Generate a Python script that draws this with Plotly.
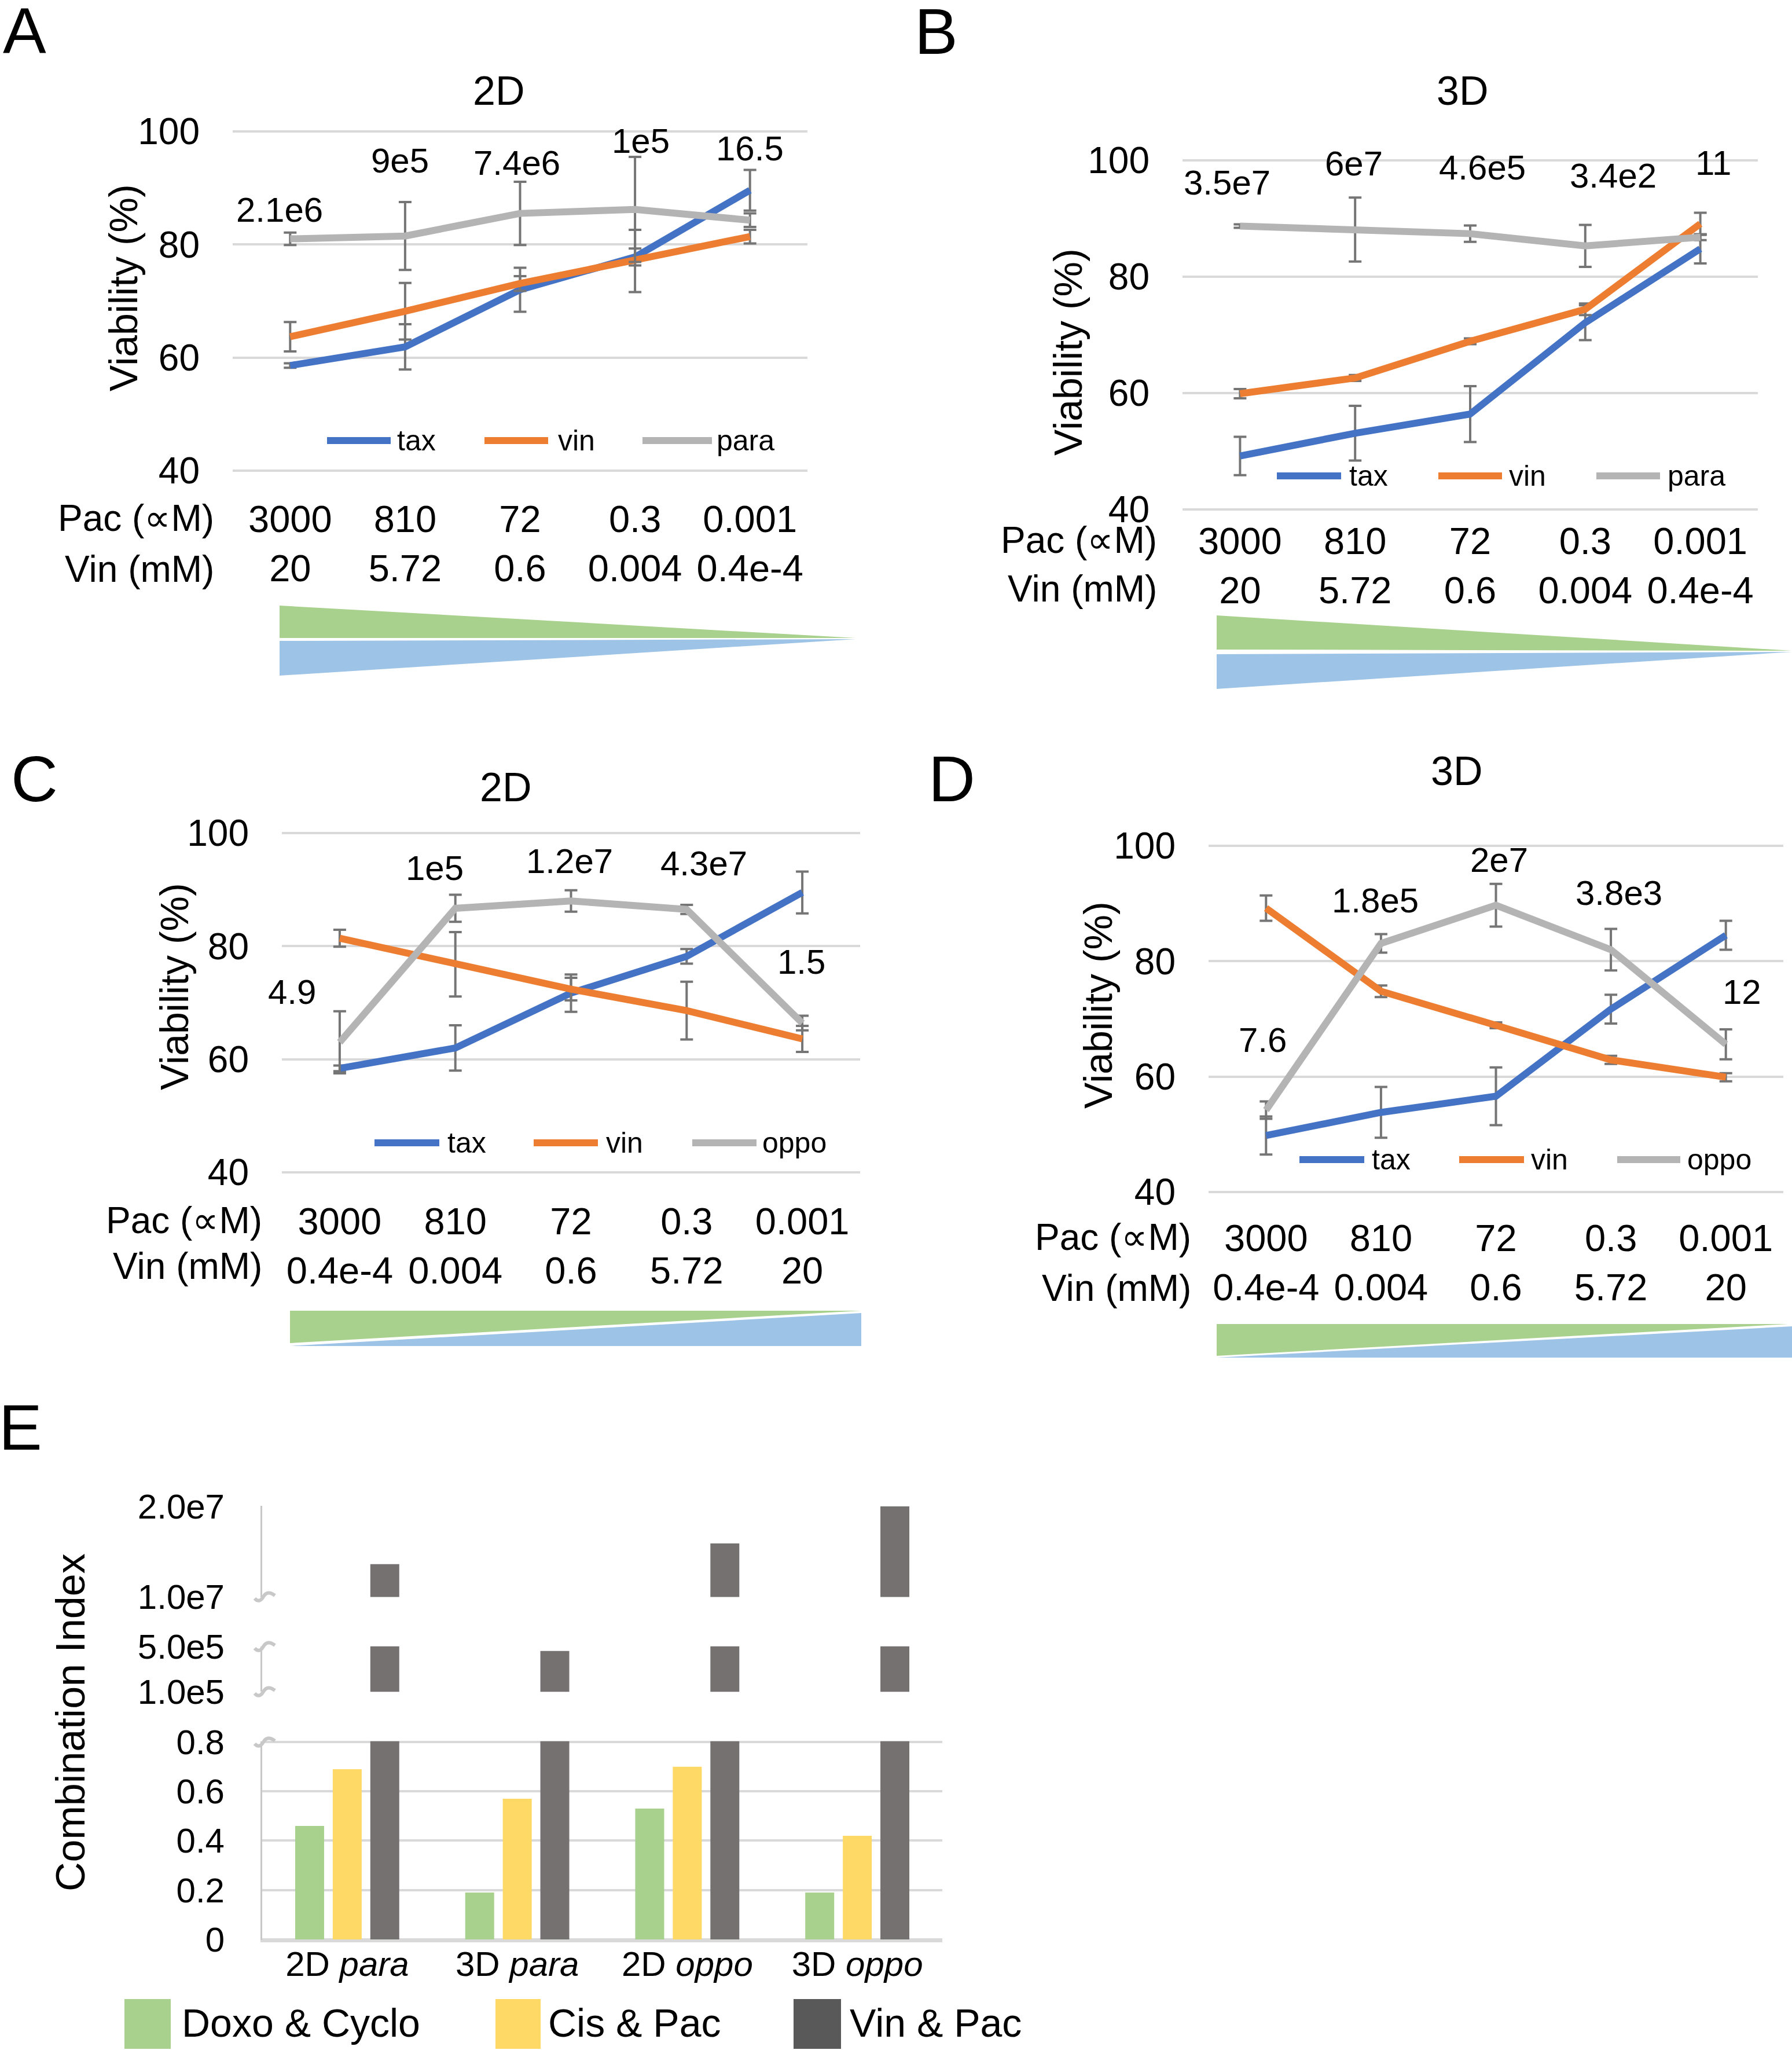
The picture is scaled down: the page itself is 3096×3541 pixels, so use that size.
import plotly.graph_objects as go

W, H = 3096, 3541
FONT = "Liberation Sans, Arial, sans-serif"

#%% Data
pac_conc = ["3000", "810", "72", "0.3", "0.001"]
vin_conc_para = ["20", "5.72", "0.6", "0.004", "0.4e-4"]
vin_conc_oppo = ["0.4e-4", "0.004", "0.6", "5.72", "20"]

# A - 2D, parallel
a_tax = [58.6, 61.9, 72.0, 77.8, 89.6]
a_tax_err = [0.4, 4.0, 3.9, 1.5, 3.6]
a_vin = [63.7, 68.2, 73.1, 77.1, 81.4]
a_vin_err = [2.6, 5.0, 1.3, 5.5, 1.2]
a_para = [81.0, 81.5, 85.5, 86.2, 84.3]
a_para_err = [1.1, 6.0, 5.6, 9.3, 1.2]
a_ci = ["2.1e6", "9e5", "7.4e6", "1e5", "16.5"]

# B - 3D, parallel
b_tax = [49.2, 53.1, 56.4, 72.1, 84.8]
b_tax_err = [3.3, 4.7, 4.8, 3.0, 2.5]
b_vin = [59.9, 62.6, 68.9, 74.4, 89.1]
b_vin_err = [0.8, 0.5, 0.5, 1.0, 1.9]
b_para = [88.7, 88.1, 87.4, 85.3, 86.8]
b_para_err = [0.3, 5.5, 1.4, 3.6, 0.5]
b_ci = ["3.5e7", "6e7", "4.6e5", "3.4e2", "11"]

# C - 2D, opposite
c_tax = [58.4, 62.0, 71.7, 78.2, 89.5]
c_tax_err = [0.5, 4.0, 3.3, 1.3, 3.7]
c_vin = [81.4, 76.8, 72.4, 68.6, 63.6]
c_vin_err = [1.5, 5.7, 2.0, 5.1, 2.3]
c_oppo = [63.0, 86.7, 88.0, 86.5, 66.4]
c_oppo_err = [5.5, 2.4, 1.9, 0.8, 1.3]
c_ci = ["4.9", "1e5", "1.2e7", "4.3e7", "1.5"]

# D - 3D, opposite
d_tax = [49.8, 53.8, 56.6, 71.7, 84.5]
d_tax_err = [3.3, 4.4, 5.0, 2.5, 2.5]
d_vin = [89.2, 74.8, 68.9, 62.9, 59.9]
d_vin_err = [2.2, 1.0, 0.5, 0.7, 0.7]
d_oppo = [54.2, 83.1, 89.7, 82.0, 65.6]
d_oppo_err = [1.5, 1.6, 3.7, 3.6, 2.6]
d_ci = ["7.6", "1.8e5", "2e7", "3.8e3", "12"]

viab_ticks = [40, 60, 80, 100]

# E - combination index
e_groups = ["2D para", "3D para", "2D oppo", "3D oppo"]
e_group_labels = ["2D <i>para</i>", "3D <i>para</i>", "2D <i>oppo</i>", "3D <i>oppo</i>"]
doxo_cyclo = [0.46, 0.19, 0.53, 0.19]
cis_pac = [0.69, 0.57, 0.70, 0.42]
vin_pac = [1.36e7, 4.6e5, 1.59e7, 2.0e7]
e_low_ticks = [0, 0.2, 0.4, 0.6, 0.8]
e_low_text = ["0", "0.2", "0.4", "0.6", "0.8"]
e_mid_ticks = [1e5, 5e5]
e_mid_text = ["1.0e5", "5.0e5"]
e_top_ticks = [1e7, 2e7]
e_top_text = ["1.0e7", "2.0e7"]

#%% Styles
C_TAX, C_VIN, C_GREY = "#4472C4", "#ED7D31", "#B4B4B4"
C_ERR, C_GRID = "#757575", "#D9D9D9"
C_GREEN, C_YELLOW, C_DARK = "#A9D18E", "#FFD966", "#767171"
C_TRI_G, C_TRI_B = "#A9D18E", "#9DC3E6"
PAD = 0.004  # small range padding so edge gridlines are drawn


def fx(p):
    return p / W


def fy(p):
    return 1 - p / H


def padded(lo_px, hi_px, rng):
    # pixel span of the range -> domain slightly larger, range slightly larger
    span = rng[1] - rng[0]
    ext = PAD * span
    px_per = (hi_px - lo_px) / span
    dom = [fy(hi_px + ext * px_per), fy(lo_px - ext * px_per)]
    return dom, [rng[0] - ext, rng[1] + ext]


fig = go.Figure()
annos = []
shapes = []


def text(x, y, s, size, xanchor="center", angle=0, color="black"):
    annos.append(dict(x=fx(x), y=fy(y), xref="paper", yref="paper", text=s,
                      showarrow=False, xanchor=xanchor, yanchor="middle",
                      textangle=angle, font=dict(family=FONT, size=size, color=color)))


# panel layout (pixel positions)
panels = [
    dict(n="", tax=(a_tax, a_tax_err), vin=(a_vin, a_vin_err), combo=(a_para, a_para_err),
         cname="para", vlab=vin_conc_para, ci=a_ci, letter="A", title="2D",
         px=(402, 1395), py=(227, 813), xstand=38, letter_xy=(42, 52), title_xy=(861, 157),
         ytitle_xy=(213, 497), rowlab_x=372, row_y=(895, 983),
         leg_y=761, leg=[(565, 675, 684), (837, 947, 962), (1110, 1230, 1236)],
         ci_xy=[(483, 362), (691, 277), (893, 282), (1107, 243), (1295, 256)],
         tri=[[(483, 1046), (483, 1102), (1478, 1102)], [(483, 1107), (483, 1167), (1478, 1104)]]),
    dict(n="2", tax=(b_tax, b_tax_err), vin=(b_vin, b_vin_err), combo=(b_para, b_para_err),
         cname="para", vlab=vin_conc_para, ci=b_ci, letter="B", title="3D",
         px=(2043, 3037), py=(277, 880), xstand=9, letter_xy=(1617, 54), title_xy=(2526, 157),
         ytitle_xy=(1845, 608), rowlab_x=2001, row_y=(933, 1017),
         leg_y=822, leg=[(2206, 2317, 2329), (2485, 2595, 2605), (2758, 2868, 2879)],
         ci_xy=[(2120, 315), (2339, 283), (2561, 289), (2787, 304), (2960, 282)],
         tri=[[(2102, 1063), (2102, 1122), (3096, 1124)], [(2102, 1130), (2102, 1190), (3096, 1126)]]),
    dict(n="3", tax=(c_tax, c_tax_err), vin=(c_vin, c_vin_err), combo=(c_oppo, c_oppo_err),
         cname="oppo", vlab=vin_conc_oppo, ci=c_ci, letter="C", title="2D",
         px=(487, 1486), py=(1439, 2025), xstand=39, letter_xy=(59, 1345), title_xy=(873, 1360),
         ytitle_xy=(301, 1704), rowlab_x=455, row_y=(2108, 2187),
         leg_y=1974, leg=[(647, 759, 771), (922, 1033, 1045), (1196, 1307, 1315)],
         ci_xy=[(504, 1713), (751, 1499), (984, 1488), (1216, 1492), (1384, 1662)],
         tri=[[(501, 2264), (1488, 2264), (501, 2320)], [(501, 2325), (1488, 2268), (1488, 2325)]]),
    dict(n="4", tax=(d_tax, d_tax_err), vin=(d_vin, d_vin_err), combo=(d_oppo, d_oppo_err),
         cname="oppo", vlab=vin_conc_oppo, ci=d_ci, letter="D", title="3D",
         px=(2088, 3081), py=(1461, 2059), xstand=34, letter_xy=(1644, 1345), title_xy=(2516, 1332),
         ytitle_xy=(1897, 1736), rowlab_x=2060, row_y=(2137, 2225),
         leg_y=2003, leg=[(2245, 2357, 2368), (2521, 2633, 2643), (2794, 2903, 2913)],
         ci_xy=[(2181, 1796), (2376, 1556), (2590, 1485), (2797, 1542), (3009, 1713)],
         tri=[[(2102, 2287), (3090, 2287), (2102, 2342)], [(2102, 2345), (3096, 2291), (3096, 2345)]]),
]

for p in panels:
    xa, ya = "x" + p["n"], "y" + p["n"]
    series = [("tax", p["tax"], C_TAX), ("vin", p["vin"], C_VIN), (p["cname"], p["combo"], C_GREY)]
    for name, (vals, err), col in series:
        fig.add_trace(go.Scatter(
            x=pac_conc, y=vals, name=name, mode="lines", xaxis=xa, yaxis=ya,
            line=dict(color=col, width=12), showlegend=False,
            error_y=dict(type="data", array=err, color=C_ERR, thickness=4, width=11),
        ))
    dom, rng = padded(p["py"][0], p["py"][1], [40, 100])
    fig.layout["xaxis" + p["n"]] = dict(
        domain=[fx(p["px"][0]), fx(p["px"][1])], anchor=ya, type="category",
        range=[-0.5, 4.5], tickvals=pac_conc,
        ticktext=[f"{a}<br>{b}" for a, b in zip(pac_conc, p["vlab"])],
        showgrid=False, showline=False, zeroline=False, ticks="",
        tickfont=dict(family=FONT, size=65, color="black"), ticklabelstandoff=p["xstand"],
    )
    fig.layout["yaxis" + p["n"]] = dict(
        domain=dom, anchor=xa, range=rng,
        tickvals=viab_ticks, showgrid=True, gridcolor=C_GRID, gridwidth=4,
        showline=False, zeroline=False, ticks="",
        tickfont=dict(family=FONT, size=64, color="black"), ticklabelstandoff=56,
    )
    text(*p["letter_xy"], p["letter"], 112)
    text(*p["title_xy"], p["title"], 70)
    text(*p["ytitle_xy"], "Viability (%)", 68, angle=-90)
    text(p["rowlab_x"], p["row_y"][0], "Pac (∝M)", 64, xanchor="right")
    text(p["rowlab_x"], p["row_y"][1], "Vin (mM)", 64, xanchor="right")
    for s, (cx, cy) in zip(p["ci"], p["ci_xy"]):
        text(cx, cy, s, 60)
    for (x0, x1, tx), (name, _, col) in zip(p["leg"], series):
        shapes.append(dict(type="line", xref="paper", yref="paper", x0=fx(x0), x1=fx(x1),
                           y0=fy(p["leg_y"]), y1=fy(p["leg_y"]), line=dict(color=col, width=12)))
        text(tx, p["leg_y"], name, 50, xanchor="left")
    for pts, col in zip(p["tri"], [C_TRI_G, C_TRI_B]):
        path = "M" + " L".join(f"{fx(x)},{fy(y)}" for x, y in pts) + " Z"
        shapes.append(dict(type="path", xref="paper", yref="paper", path=path,
                           fillcolor=col, line=dict(width=0)))

#%% Panel E: broken-axis bar chart
e_sections = [("5", (3009, 3350), [0, 0.8], e_low_ticks, e_low_text),
              ("6", (2844, 2922), [1e5, 5e5], e_mid_ticks, e_mid_text),
              ("7", (2602, 2758), [1e7, 2e7], e_top_ticks, e_top_text)]
bar_series = [("Doxo & Cyclo", doxo_cyclo, C_GREEN), ("Cis & Pac", cis_pac, C_YELLOW),
              ("Vin & Pac", vin_pac, C_DARK)]
for n, (top, bot), rng0, tv, tt in e_sections:
    for name, vals, col in bar_series:
        fig.add_trace(go.Bar(x=e_groups, y=vals, name=name, marker_color=col,
                             xaxis="x5", yaxis="y" + n, showlegend=False))
    dom, rng = padded(top, bot, rng0)
    fig.layout["yaxis" + n] = dict(
        domain=dom, anchor="x5", range=rng, tickvals=tv, ticktext=tt,
        showgrid=True, gridcolor=C_GRID, gridwidth=4, showline=True, linecolor="#C8C8C8",
        linewidth=3, zeroline=False, ticks="",
        tickfont=dict(family=FONT, size=60, color="black"), ticklabelstandoff=50,
    )
fig.layout["xaxis5"] = dict(
    domain=[fx(453), fx(1628)], anchor="y5", type="category", tickvals=e_groups,
    ticktext=e_group_labels, showgrid=False, showline=True, linecolor=C_GRID, linewidth=4,
    zeroline=False, ticks="", tickfont=dict(family=FONT, size=60, color="black"),
    ticklabelstandoff=-14,
)
text(35, 2465, "E", 112)
text(122, 2975, "Combination Index", 70, angle=-90)

# axis-break marks
for by in [2758, 2844, 2922, 3009]:
    pts = [(440, by + 3), (448, by + 12), (455, by), (462, by - 12), (475, by - 2)]
    path = (f"M{fx(pts[0][0])},{fy(pts[0][1])} Q{fx(pts[1][0])},{fy(pts[1][1])} "
            f"{fx(pts[2][0])},{fy(pts[2][1])} Q{fx(pts[3][0])},{fy(pts[3][1])} "
            f"{fx(pts[4][0])},{fy(pts[4][1])}")
    shapes.append(dict(type="path", xref="paper", yref="paper", path=path,
                       line=dict(color="#C8C8C8", width=6)))

# legend for E
for (x0, x1, tx), (name, _, col) in zip([(215, 295, 312), (856, 934, 945), (1371, 1453, 1466)],
                                         bar_series):
    shapes.append(dict(type="rect", xref="paper", yref="paper", x0=fx(x0), x1=fx(x1),
                       y0=fy(3539), y1=fy(3453),
                       fillcolor="#595959" if col == C_DARK else col, line=dict(width=0)))
    text(tx, 3494, name, 68, xanchor="left")

fig.update_layout(
    width=W, height=H, margin=dict(l=0, r=0, t=0, b=0), autosize=False,
    template="none", paper_bgcolor="white", plot_bgcolor="rgba(0,0,0,0)",
    barmode="group", bargap=0.337, bargroupgap=0.23,
    annotations=annos, shapes=shapes, showlegend=False,
    font=dict(family=FONT, color="black"),
)

fig.write_html("out.html", config={"displayModeBar": False},
               post_script="document.body.style.margin='0px';")
